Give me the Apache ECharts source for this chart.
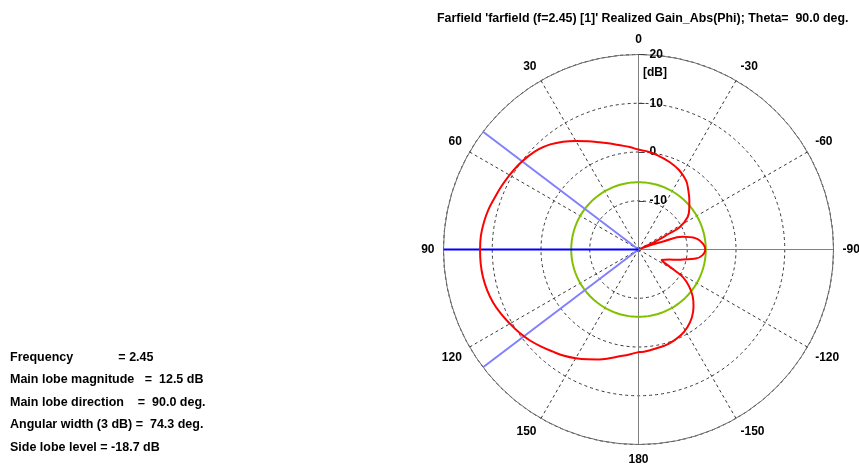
<!DOCTYPE html>
<html>
<head>
<meta charset="utf-8">
<script src="https://cdn.jsdelivr.net/npm/echarts@6/dist/echarts.min.js"></script>
<style>
  html, body { margin: 0; padding: 0; background: #ffffff; }
  #chart { width: 859px; height: 468px; }
</style>
</head>
<body>
<div id="chart"></div>
<script>
// Realized gain (dB) versus phi (deg), theta = 90 deg cut
const phiDeg = [-180, -177, -170, -162, -154, -148, -142, -136, -131, -126, -122, -120, -118,
  -116, -114, -111, -108, -105, -102.7, -99, -95, -90, -85, -79, -74, -72, -70, -67, -64.5,
  -62.5, -61.5, -56.5, -51, -46, -40, -34.5, -27, -19.5, -10.5, -5, 0, 5, 10, 15, 20, 25,
  30, 35, 40, 45, 50, 55, 60, 65, 70, 75, 80, 85, 90, 95, 100, 105, 110, 115, 120, 125,
  130, 135, 140, 145, 150, 155, 160, 165, 170, 175, 180];
const gainDb = [1.05, 1.0, 0.62, 0.29, -0.35, -1.15, -2.25, -3.75, -5.25, -7.2, -9.2, -11.4,
  -13.4, -14.5, -14.8, -14.2, -13.3, -11.8, -10.7, -8.1, -6.8, -6.3, -6.7, -8.0, -10.6,
  -14.5, -17.5, -19.5, -16.0, -13.0, -10.4, -7.9, -6.6, -5.5, -4.1, -2.8, -1.7, -0.95,
  -0.2, 0.2, 0.5, 1.1, 1.7, 2.5, 3.4, 4.5, 5.7, 7.0, 8.15, 9.05, 9.65, 10.15, 10.55, 10.95,
  11.35, 11.85, 12.2, 12.45, 12.5, 12.5, 12.4, 12.15, 11.75, 11.15, 10.45, 9.8, 9.05, 8.2,
  7.35, 6.6, 5.75, 4.85, 4.0, 3.1, 2.25, 1.6, 1.05];

// Pattern summary
const frequency = '2.45';
const mainLobeMagnitude = 12.5;   // dB
const mainLobeDirection = 90.0;   // deg
const angularWidth = 74.3;        // deg, 3 dB beamwidth
const sideLobeLevel = -18.7;      // dB relative to main lobe

// Axis ranges
const radiusMin = -20, radiusMax = 20, radiusStep = 10;
const angleStep = 30;

const titleText = "Farfield 'farfield (f=2.45) [1]' Realized Gain_Abs(Phi); Theta=  90.0 deg.";
const infoLines = [
  'Frequency             = ' + frequency,
  'Main lobe magnitude   =  ' + mainLobeMagnitude.toFixed(1) + ' dB',
  'Main lobe direction    =  ' + mainLobeDirection.toFixed(1) + ' deg.',
  'Angular width (3 dB) =  ' + angularWidth.toFixed(1) + ' deg.',
  'Side lobe level = ' + sideLobeLevel.toFixed(1) + ' dB'
];

const FONT = '"Liberation Sans", Arial, sans-serif';

// The angle axis runs 0..360 counter-clockwise from the top; negative phi wraps round.
const wrap = (p) => (p < 0 ? p + 360 : p);
const curve = phiDeg.map((p, i) => [gainDb[i], wrap(p)]);

// constant-level ring at the absolute side lobe level
const sideLobeAbs = mainLobeMagnitude + sideLobeLevel;
const ring = [];
for (let a = 0; a <= 360; a += 2) ring.push([sideLobeAbs, a]);

const ray = (a) => [[radiusMin, wrap(a)], [radiusMax, wrap(a)]];
const halfWidth = angularWidth / 2;

function lineSeries(data, color, width, z, smooth) {
  return {
    type: 'line', coordinateSystem: 'polar', data: data,
    showSymbol: false, symbol: 'none', silent: true, smooth: smooth || false,
    lineStyle: { color: color, width: width }, z: z
  };
}

const gridLine = { color: '#383838', width: 1, type: [3, 3] };

const chart = echarts.init(document.getElementById('chart'), null, { renderer: 'canvas' });
chart.setOption({
  animation: false,
  backgroundColor: '#ffffff',
  title: {
    text: titleText, left: 432, top: 8,
    textStyle: { fontSize: 12.4, fontWeight: 'bold', color: '#000', fontFamily: FONT }
  },
  polar: { center: [638.5, 249.5], radius: 195 },
  angleAxis: {
    type: 'value', min: 0, max: 360, interval: angleStep,
    startAngle: 90, clockwise: false,
    axisLine: { lineStyle: { color: '#6e6e6e', width: 1 } },
    axisTick: { show: false },
    axisLabel: {
      margin: 9, fontSize: 12, fontWeight: 'bold', color: '#000', fontFamily: FONT,
      formatter: (v) => String(v === 360 ? 0 : (v > 180 ? v - 360 : v))
    },
    splitLine: { show: true, lineStyle: gridLine }
  },
  radiusAxis: {
    type: 'value', min: radiusMin, max: radiusMax, interval: radiusStep,
    axisLine: { lineStyle: { color: '#808080', width: 1 } },
    axisTick: { show: true, length: -6, lineStyle: { color: '#404040' } },
    axisLabel: {
      margin: -11, align: 'left', fontSize: 12, fontWeight: 'bold', color: '#000',
      fontFamily: FONT, padding: [0, 0, 8, 0],
      formatter: (v) => (v === radiusMin ? '' : String(v))
    },
    splitLine: { show: true, lineStyle: gridLine }
  },
  graphic: [
    {
      type: 'text', left: 643, top: 67,
      style: { text: '[dB]', fill: '#000', font: 'bold 12px ' + FONT }
    }
  ].concat(infoLines.map((t, i) => ({
    type: 'text', left: 10, top: 351 + i * 22.5,
    style: { text: t, fill: '#000', font: 'bold 12.5px ' + FONT }
  }))),
  series: [
    lineSeries(ray(180), '#808080', 1, 2),
    lineSeries([[radiusMax, wrap(-90)], [radiusMin, wrap(-90)], [radiusMax, 90]], '#808080', 1, 2),
    lineSeries(ring, '#80c000', 2, 3),
    lineSeries(ray(mainLobeDirection - halfWidth), '#8080ff', 2, 4),
    lineSeries(ray(mainLobeDirection + halfWidth), '#8080ff', 2, 4),
    lineSeries(ray(mainLobeDirection), '#0000ff', 2, 5),
    lineSeries(curve, '#ff0000', 2, 6, 0.4)
  ]
});
</script>
</body>
</html>
